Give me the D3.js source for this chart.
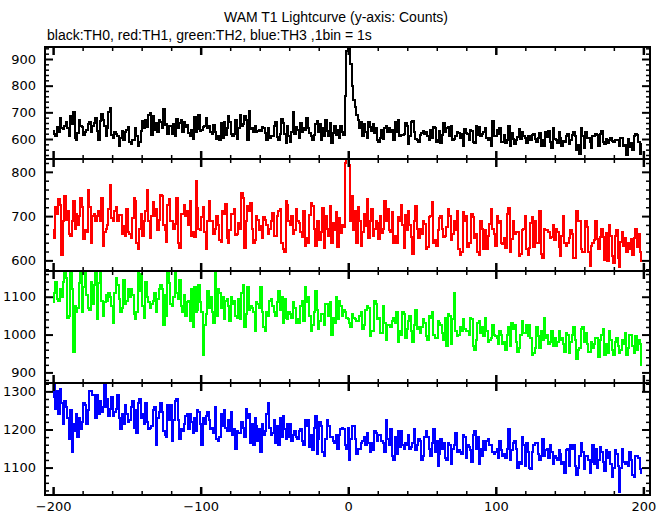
<!DOCTYPE html>
<html><head><meta charset="utf-8">
<script src="https://cdn.jsdelivr.net/npm/d3@7"></script>
<style>body{margin:0;background:#fff}svg{display:block}</style>
</head><body>
<script>
const titleText = "WAM T1 Lightcurve (y-axis: Counts)";
const subtitleText = "black:TH0, red:TH1, green:TH2, blue:TH3 ,1bin = 1s";
const xTickLabels = [-200, -100, 0, 100, 200];
const binStart = -200, binWidth = 1;

const th0 = [
630,618,612,645,625,678,642,636,648,662,640,610,688,655,700,603,598,622,670,650,
645,615,628,635,655,662,625,650,660,680,630,598,668,692,672,648,612,640,702,715,
615,605,625,620,610,575,602,630,598,628,632,645,588,580,598,595,640,612,572,590,
630,668,642,670,645,690,698,615,688,635,660,625,672,665,642,712,652,655,620,648,
650,618,655,610,675,640,660,672,628,665,645,652,622,612,635,600,682,628,638,690,
630,635,645,648,678,640,650,628,618,652,625,600,612,598,660,605,662,615,640,688,
665,618,612,620,670,600,640,690,650,655,685,672,598,705,638,642,628,648,625,630,
632,630,645,640,622,595,640,602,612,612,650,665,608,598,618,675,660,620,585,648,
610,590,625,700,620,645,632,605,660,628,640,635,680,642,622,612,598,615,655,668,
628,655,598,640,612,672,630,610,660,585,622,650,615,635,605,648,625,615,760,930,
960,955,880,800,745,720,690,672,640,665,612,655,628,605,662,645,630,658,622,640,
598,588,605,635,600,642,650,625,640,625,632,598,665,628,670,610,615,615,620,660,
650,580,612,662,668,625,600,595,590,615,622,630,618,628,610,598,632,605,645,640,
590,598,630,585,615,660,628,640,645,612,650,595,600,612,625,622,605,620,575,638,
622,620,598,635,630,590,585,650,615,645,610,618,628,640,605,595,605,575,668,612,
612,632,620,640,590,588,615,585,595,650,572,622,600,580,598,608,638,600,625,610,
605,585,612,610,598,615,618,600,590,602,622,572,595,575,625,608,630,590,565,640,
600,598,585,625,605,575,592,590,612,620,582,595,615,628,612,560,578,545,640,610,
568,628,602,605,588,565,612,612,620,615,575,618,630,590,580,600,585,598,605,592,
590,595,595,598,575,605,602,575,578,540,600,570,585,560,612,620,615,590,545,580];

const th1 = [
668,650,720,705,738,725,612,690,745,692,712,660,655,690,735,670,705,680,700,740,
720,648,668,665,758,720,640,700,705,690,700,712,690,742,632,665,672,680,715,770,
695,690,712,720,688,702,702,660,678,655,715,665,660,650,695,740,735,640,625,672,
705,655,690,712,760,690,650,700,732,700,715,668,692,748,745,680,668,642,725,738,
690,690,672,682,742,640,628,705,705,725,700,712,680,735,655,665,652,780,718,670,
668,698,720,665,625,690,735,688,690,660,672,700,680,645,642,712,705,728,650,640,
668,705,705,715,658,660,685,672,752,740,628,688,722,712,730,670,640,645,700,692,
668,678,650,698,692,680,660,672,690,708,655,655,700,712,715,640,625,620,735,725,
688,680,700,660,668,715,690,685,665,652,712,632,650,640,702,730,722,670,632,690,
690,645,665,718,628,700,672,655,722,640,685,668,710,630,695,662,680,675,820,830,
828,815,690,745,668,712,640,720,690,632,665,705,678,738,650,690,715,655,672,688,
685,648,700,662,672,735,690,715,668,665,710,640,655,640,698,690,725,680,628,702,
668,712,680,652,615,690,722,672,650,670,660,688,682,625,630,698,700,732,640,645,
632,668,695,700,672,652,655,675,715,700,645,660,688,668,712,625,612,618,710,690,
700,630,640,640,705,698,650,660,618,612,690,672,625,668,625,655,682,715,672,660,
632,700,685,690,640,638,650,628,705,718,620,648,688,660,665,665,610,615,668,672,
700,625,612,628,685,698,630,690,640,640,712,615,605,672,668,668,665,650,652,680,
645,672,665,630,610,655,700,640,632,640,650,668,660,605,605,712,688,690,625,618,
618,690,675,620,588,632,640,645,690,648,625,652,670,652,600,662,598,680,655,610,
595,655,668,605,585,642,665,632,650,620,640,625,648,612,650,672,630,660,618,598];

const th2 = [
1085,1110,1140,1095,1090,1120,1100,1140,1175,1150,1045,1050,1180,1120,955,1075,1060,1070,1135,1175,
1060,1125,1175,1105,1070,1065,1140,1080,1130,1170,1040,1135,1172,1090,1050,1085,1105,1090,1110,1100,
1075,1030,1110,1150,1130,1095,1060,1070,1145,1080,1090,1120,1100,1120,1105,1055,1040,1060,1165,1115,
1160,1075,1045,1140,1100,1085,1070,1080,1090,1110,1060,1095,1120,1130,1120,1025,1105,1050,1175,1135,
1080,1075,1100,1170,1110,1095,1145,1075,1060,1105,1050,1085,1090,1035,1120,1020,1125,1060,1065,1130,
1085,1060,945,1025,1055,1115,1070,1100,1060,1030,1165,1050,1120,1110,1070,1100,1040,1090,1095,1075,
1035,1100,1080,1090,1050,1045,1095,1040,1110,1130,1020,1055,1125,1065,1075,1070,1060,1010,1085,1080,
1070,1125,1060,1020,1010,1060,1050,1090,1095,1075,1060,1050,1085,1115,1065,1100,1030,1095,1045,1040,
1060,1055,1045,1085,1070,1030,1040,1030,1075,1090,1035,1125,1085,1100,1050,1010,1025,1060,1115,1065,
1015,1035,1055,1055,1025,1080,1080,1050,1085,1000,1045,1030,1100,1040,1090,1075,1050,1065,1060,1045,
1040,1030,1020,1055,1045,1040,1035,1035,1050,1060,1015,1025,1065,1075,1070,995,1010,1010,1090,1080,
1040,1045,1005,1005,1075,1030,985,1025,1025,1020,1035,1045,1030,1060,980,1010,1000,1060,1055,990,
1015,1035,1050,1010,980,1025,1065,1015,1020,1005,1020,1040,1030,995,985,1050,1045,1060,1000,990,
990,1035,1030,1025,1005,985,1045,970,1055,1050,975,1040,1110,1010,995,1000,1020,1010,1040,1015,
1010,1010,1000,1045,1040,970,960,985,1030,1035,1005,1020,995,1045,1010,980,985,990,1025,1000,
995,990,975,1010,1000,975,980,960,1000,1020,970,1030,1015,1025,980,955,965,1000,1035,1005,
1005,1025,995,1025,990,945,950,965,1020,995,965,1010,985,1045,990,1000,975,980,1010,970,
990,970,980,1010,985,990,975,955,1005,1000,950,980,1000,1020,985,935,960,965,1015,1020,
980,1005,975,955,955,980,965,975,990,990,940,985,1000,1015,945,975,950,1010,985,960,
945,980,990,970,950,960,985,975,1005,945,965,1000,1000,970,950,995,960,985,975,920];

const th3 = [
1285,1320,1255,1300,1240,1305,1270,1215,1275,1260,1230,1175,1250,1140,1215,1195,1240,1180,1230,1200,
1220,1270,1265,1215,1250,1300,1300,1290,1290,1230,1290,1240,1275,1245,1260,1320,1260,1280,1235,1255,
1285,1235,1245,1255,1290,1230,1200,1240,1215,1265,1240,1220,1225,1260,1275,1205,1250,1190,1270,1280,
1230,1240,1215,1270,1220,1200,1205,1210,1250,1260,1160,1230,1245,1270,1245,1195,1185,1180,1265,1225,
1265,1170,1225,1275,1280,1225,1175,1200,1195,1215,1235,1240,1200,1240,1220,1190,1230,1195,1250,1245,
1215,1160,1230,1215,1235,1245,1225,1200,1205,1190,1260,1175,1170,1180,1240,1210,1250,1205,1195,1225,
1195,1245,1185,1200,1150,1195,1190,1190,1220,1205,1180,1255,1230,1240,1165,1215,1160,1230,1210,1170,
1200,1140,1215,1185,1195,1240,1270,1205,1185,1190,1225,1165,1210,1160,1230,1180,1235,1200,1175,1215,
1180,1215,1170,1185,1195,1180,1175,1195,1200,1170,1160,1225,1210,1225,1155,1185,1145,1205,1235,1135,
1175,1220,1210,1140,1130,1175,1225,1210,1180,1180,1170,1165,1185,1150,1185,1200,1205,1200,1160,1150,
1205,1120,1175,1210,1210,1175,1135,1150,1150,1165,1170,1180,1160,1190,1165,1140,1165,1145,1195,1190,
1170,1185,1185,1170,1165,1140,1225,1175,1160,1200,1130,1120,1180,1135,1195,1155,1195,1160,1150,1165,
1160,1185,1150,1155,1165,1200,1145,1160,1175,1170,1120,1130,1180,1195,1180,1150,1130,1165,1200,1140,
1170,1105,1135,1175,1150,1165,1125,1120,1165,1160,1110,1150,1160,1190,1140,1145,1140,1135,1185,1180,
1125,1160,1155,1145,1115,1185,1195,1150,1180,1110,1150,1130,1170,1145,1170,1175,1160,1160,1140,1135,
1140,1150,1125,1170,1145,1130,1135,1125,1150,1200,1120,1145,1165,1170,1150,1100,1115,1110,1180,1160,
1105,1165,1140,1100,1095,1140,1160,1165,1165,1135,1120,1130,1175,1130,1145,1150,1125,1160,1140,1110,
1130,1125,1120,1145,1135,1110,1115,1085,1145,1150,1105,1160,1150,1160,1105,1080,1100,1130,1165,1140,
1095,1130,1130,1120,1085,1115,1160,1110,1150,1100,1120,1155,1140,1115,1090,1145,1125,1140,1110,1075,
1100,1145,1135,1105,1035,1100,1150,1115,1110,1115,1105,1140,1120,1080,1075,1130,1130,1125,1095,1085];

const seriesList = [th0, th1, th2, th3];
const seriesColors = ["#000000", "#ff0000", "#00ff00", "#0000ff"];
const yDomains = [[525, 945], [576, 829], [872, 1168], [1028, 1322]];
const yLabelTicks = [[600, 700, 800, 900], [600, 700, 800], [900, 1000, 1100], [1100, 1200, 1300]];

const W = 669, H = 515;
const left = 45, right = 650, panelTop = 47, panelH = 112;
const svg = d3.select("body").append("svg").attr("width", W).attr("height", H);
const font = "DejaVu Sans, sans-serif";

svg.append("text").attr("x", 336).attr("y", 22).attr("text-anchor", "middle")
  .attr("font-family", "Liberation Sans, Arial, sans-serif").attr("font-size", 14).text(titleText);
svg.append("text").attr("x", 47).attr("y", 40)
  .attr("font-family", "Liberation Sans, Arial, sans-serif").attr("font-size", 14).text(subtitleText);

const x = d3.scaleLinear().domain([-205.5, 204.5]).range([left, right]);

function minorTicks(dom, step) {
  const out = [];
  for (let v = Math.ceil(dom[0] / step) * step; v <= dom[1]; v += step) out.push(v);
  return out;
}

seriesList.forEach((vals, i) => {
  const y0 = panelTop + i * panelH, y1 = y0 + panelH;
  const y = d3.scaleLinear().domain(yDomains[i]).range([y1, y0]);
  const g = svg.append("g");
  const clipId = "clip" + i;
  svg.append("clipPath").attr("id", clipId).append("rect")
    .attr("x", left).attr("y", y0).attr("width", right - left).attr("height", panelH);
  const data = vals.map((v, k) => ({ t: binStart + k * binWidth, v }));
  const line = d3.line().x(d => x(d.t)).y(d => y(d.v)).curve(d3.curveStep);
  g.append("path").datum(data).attr("clip-path", `url(#${clipId})`)
    .attr("fill", "none").attr("stroke", seriesColors[i]).attr("stroke-width", 2)
    .attr("shape-rendering", "crispEdges")
    .attr("stroke-linejoin", "miter").attr("d", line);

  const yMinor = minorTicks(yDomains[i], 20).filter(v => v % 100 !== 0);
  const xMinor = minorTicks([-205, 204], 20).filter(v => v % 100 !== 0);
  const xMajor = xTickLabels;

  const addAxis = (axis, tx, ty, sw) => {
    const a = g.append("g").attr("transform", `translate(${tx},${ty})`).call(axis);
    a.select(".domain").remove();
    a.selectAll(".tick line").attr("stroke", "#000").attr("stroke-width", sw);
    a.selectAll("text").attr("font-family", font).attr("font-size", 13).attr("fill", "#000");
    return a;
  };
  addAxis(d3.axisLeft(y).tickValues(yLabelTicks[i]).tickSize(-8).tickPadding(9).tickFormat(d3.format("d")), left, 0, 2);
  addAxis(d3.axisLeft(y).tickValues(yMinor).tickSize(-4).tickFormat(""), left, 0, 1.5);
  addAxis(d3.axisRight(y).tickValues(yLabelTicks[i]).tickSize(-8).tickFormat(""), right, 0, 2);
  addAxis(d3.axisRight(y).tickValues(yMinor).tickSize(-4).tickFormat(""), right, 0, 1.5);
  addAxis(d3.axisTop(x).tickValues(xMajor).tickSize(-8).tickFormat(""), 0, y0, 2.5);
  addAxis(d3.axisTop(x).tickValues(xMinor).tickSize(-4).tickFormat(""), 0, y0, 1.5);
  const bottomMajor = d3.axisBottom(x).tickValues(xMajor).tickSize(-8).tickPadding(7);
  if (i < 3) bottomMajor.tickFormat("");
  addAxis(bottomMajor, 0, y1, 2.5);
  addAxis(d3.axisBottom(x).tickValues(xMinor).tickSize(-4).tickFormat(""), 0, y1, 1.5);

  g.append("rect").attr("x", left).attr("y", y0).attr("width", right - left).attr("height", panelH)
    .attr("fill", "none").attr("stroke", "#000").attr("stroke-width", 2);
});
</script>
</body></html>
